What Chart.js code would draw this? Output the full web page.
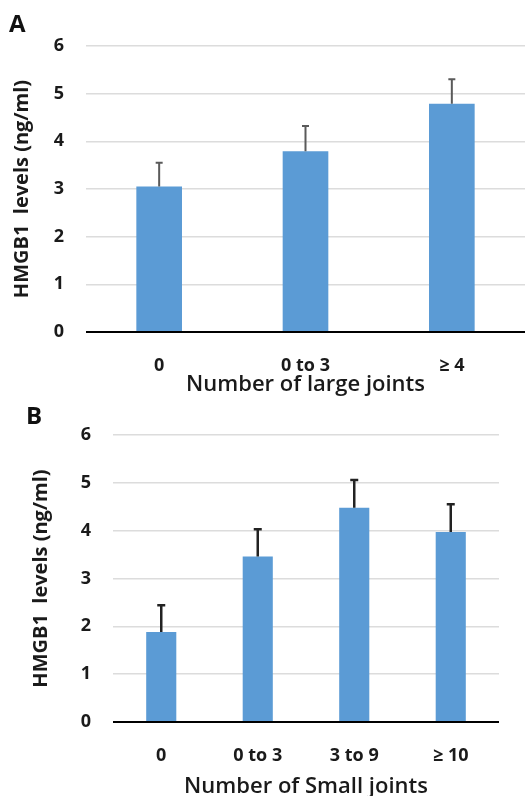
<!DOCTYPE html>
<html>
<head>
<meta charset="utf-8">
<script src="https://cdn.jsdelivr.net/npm/chart.js@4/dist/chart.umd.min.js"></script>
<style>
  body { margin: 0; background: #fff; width: 531px; height: 796px; position: relative; overflow: hidden; }
  .panel { position: absolute; left: 0; width: 531px; }
  .tag { position: absolute; font-family: "Open Sans", sans-serif; font-weight: bold; font-size: 24px; color: #111; }
</style>
</head>
<body>
<div class="panel" style="top:0;height:400px"><canvas id="chartA"></canvas></div>
<div class="panel" style="top:400px;height:400px"><canvas id="chartB"></canvas></div>
<div class="tag" style="left:9px;top:6px">A</div>
<div class="tag" style="left:26px;top:398px">B</div>
<script>
// panel A - large joints
const largeLabels = ["0", "0 to 3", "\u2265 4"];
const largeMeans = [3.05, 3.79, 4.79];
const largeErrors = [0.50, 0.53, 0.51];

// panel B - small joints
const smallLabels = ["0", "0 to 3", "3 to 9", "\u2265 10"];
const smallMeans = [1.88, 3.46, 4.48, 3.97];
const smallErrors = [0.56, 0.57, 0.58, 0.58];

const yTicks = [0, 1, 2, 3, 4, 5, 6];

const font = "'Open Sans', sans-serif";

// draws the upper error whisker on every bar
const errorBars = {
    id: "errorBars",
    afterDatasetsDraw(chart, args, opts) {
        const ctx = chart.ctx;
        const yScale = chart.scales.y;
        const ds = chart.data.datasets[0];
        chart.getDatasetMeta(0).data.forEach((bar, i) => {
            const yTop = yScale.getPixelForValue(ds.data[i] + opts.errors[i]);
            const yBase = yScale.getPixelForValue(ds.data[i]);
            ctx.save();
            ctx.strokeStyle = opts.color;
            ctx.lineWidth = opts.width;
            ctx.beginPath();
            ctx.moveTo(bar.x, yBase);
            ctx.lineTo(bar.x, yTop);
            ctx.moveTo(bar.x - opts.cap, yTop);
            ctx.lineTo(bar.x + opts.cap, yTop);
            ctx.stroke();
            ctx.restore();
        });
    }
};

const makeChart = (id, labels, means, errors, o) => {
    const ctx = document.getElementById(id).getContext("2d");
    return new Chart(ctx, {
        type: "bar",
        data: {
            labels: labels,
            datasets: [{
                data: means,
                backgroundColor: "#5B9BD5",
                categoryPercentage: 1,
                barPercentage: 0.312
            }]
        },
        plugins: [errorBars],
        options: {
            responsive: true,
            maintainAspectRatio: false,
            animation: false,
            layout: { padding: { top: o.top, right: o.right, left: 0, bottom: 0 } },
            plugins: {
                legend: { display: false },
                tooltip: { enabled: false },
                errorBars: { errors: errors, color: o.errColor, width: o.errWidth, cap: o.cap }
            },
            scales: {
                x: {
                    grid: { display: false },
                    border: { display: false },
                    ticks: { color: "#1a1a1a", padding: 15, font: { family: font, size: 18, weight: "bold" } },
                    title: {
                        display: true,
                        text: o.xTitle,
                        color: "#1a1a1a",
                        padding: { top: 0, bottom: o.xTitlePad },
                        font: { family: font, size: 22, weight: 600 }
                    },
                    afterFit: s => { s.height = o.xHeight; }
                },
                y: {
                    min: 0,
                    max: 6,
                    afterBuildTicks: s => { s.ticks = yTicks.map(v => ({ value: v })); },
                    grid: {
                        drawTicks: false,
                        color: c => c.tick && c.tick.value === 0 ? "#000" : "#dcdcdc",
                        lineWidth: c => c.tick && c.tick.value === 0 ? 2 : 1.5
                    },
                    border: { display: false },
                    ticks: { color: "#1a1a1a", padding: 22, font: { family: font, size: 18, weight: "bold" } },
                    title: {
                        display: true,
                        text: "HMGB1  levels (ng/ml)",
                        color: "#1a1a1a",
                        padding: { top: o.yTitlePad, bottom: 0 },
                        font: { family: font, size: 20, weight: "bold" }
                    },
                    afterFit: s => { s.width = o.yWidth; }
                }
            }
        }
    });
};

makeChart("chartA", largeLabels, largeMeans, largeErrors, {
    top: 46, right: 6, yWidth: 86, xHeight: 68, xTitle: "Number of large joints",
    xTitlePad: 2, yTitlePad: 10, errColor: "#5a5a5a", errWidth: 2, cap: 3.5
});

makeChart("chartB", smallLabels, smallMeans, smallErrors, {
    top: 35, right: 32, yWidth: 113, xHeight: 78, xTitle: "Number of Small joints",
    xTitlePad: 0, yTitlePad: 29, errColor: "#222", errWidth: 2.5, cap: 4
});
</script>
</body>
</html>
